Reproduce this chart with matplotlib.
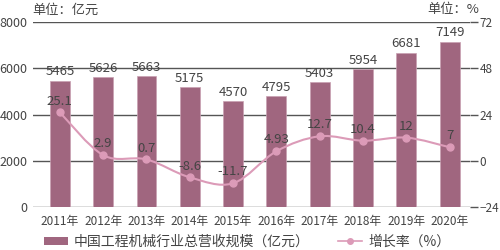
import numpy as np
import matplotlib
matplotlib.use("Agg")
from matplotlib import pyplot as plt
from matplotlib.path import Path
from matplotlib.patches import PathPatch
from matplotlib.lines import Line2D
from matplotlib.patches import Patch

plt.rcParams['font.family'] = ['Noto Sans CJK SC', 'DejaVu Sans']

years = ["2011年", "2012年", "2013年", "2014年", "2015年",
         "2016年", "2017年", "2018年", "2019年", "2020年"]
revenue = [5465, 5626, 5663, 5175, 4570, 4795, 5403, 5954, 6681, 7149]
growth = [25.1, 2.9, 0.7, -8.6, -11.7, 4.93, 12.7, 10.4, 12, 7]
growth_labels = ["25.1", "2.9", "0.7", "-8.6", "-11.7", "4.93", "12.7", "10.4", "12", "7"]

bar_color = "#a0667f"
line_color = "#dc9bb8"
text_color = "#444444"
grid_color = "#555555"

fig = plt.figure(figsize=(5, 2.5), dpi=100)
ax = fig.add_axes([0.066, 0.172, 0.874, 0.74])
x = np.arange(len(years))

ax.bar(x, revenue, width=0.46, color=bar_color, edgecolor="#c8a0b2", linewidth=0.5, zorder=2)
for xi, v in zip(x, revenue):
    ax.text(xi, v + 100, str(v), ha="center", va="bottom", fontsize=9.5,
            color=text_color, zorder=5)

ax.set_xlim(-0.62, 9.47)
ax.set_ylim(0, 8000)
ax.set_yticks([0, 2000, 4000, 6000, 8000])
ax.grid(axis="y", color=grid_color, linewidth=1, zorder=1)
ax.set_axisbelow(True)
for s in ax.spines.values():
    s.set_visible(False)
ax.tick_params(axis="y", length=0, labelsize=9, labelcolor=text_color, pad=4)
ax.tick_params(axis="x", length=0, labelsize=8.5, labelcolor=text_color, pad=6)
ax.set_xticks(x)
ax.set_xticklabels(years)

ax2 = ax.twinx()
ax2.set_ylim(-24, 72)
ax2.set_yticks([-24, 0, 24, 48, 72])
for s in ax2.spines.values():
    s.set_visible(False)
ax2.tick_params(axis="y", length=6, width=1, color=grid_color, labelsize=8.5,
                labelcolor=text_color, pad=1)

# smooth curve through the points (Catmull-Rom as cubic Bezier)
pts = np.column_stack([x, growth]).astype(float)
verts = [tuple(pts[0])]
codes = [Path.MOVETO]
for i in range(len(pts) - 1):
    p0 = pts[i - 1] if i > 0 else pts[i]
    p1 = pts[i]
    p2 = pts[i + 1]
    p3 = pts[i + 2] if i + 2 < len(pts) else pts[i + 1]
    c1 = p1 + (p2 - p0) / 6
    c2 = p2 - (p3 - p1) / 6
    verts += [tuple(c1), tuple(c2), tuple(p2)]
    codes += [Path.CURVE4] * 3
ax2.add_patch(PathPatch(Path(verts, codes), facecolor="none", edgecolor=line_color, lw=1.5, zorder=3))
ax2.plot(x, growth, "o", color=line_color, markersize=5, zorder=4)
for xi, v, lab in zip(x, growth, growth_labels):
    ax2.text(xi, v + 2.5, lab, ha="center", va="bottom", fontsize=9.5,
             color=text_color, zorder=5)

fig.text(0.064, 0.96, "单位：亿元", fontsize=9.5, color=text_color, ha="left", va="center")
fig.text(0.958, 0.96, "单位：%", fontsize=9.5, color=text_color, ha="right", va="center")

handles = [Patch(facecolor=bar_color, edgecolor="none"),
           Line2D([0], [0], color=line_color, lw=1.2, marker="o", markersize=4)]
labels = ["中国工程机械行业总营收规模（亿元）", "增长率（%）"]
fig.legend(handles, labels, loc="lower left", bbox_to_anchor=(0.062, -0.045), ncol=2,
           frameon=False, prop={"size": 10}, labelcolor=text_color,
           columnspacing=2.0, handlelength=1.75, handleheight=0.45, handletextpad=0.45)

fig.savefig("out.png", dpi=100)
